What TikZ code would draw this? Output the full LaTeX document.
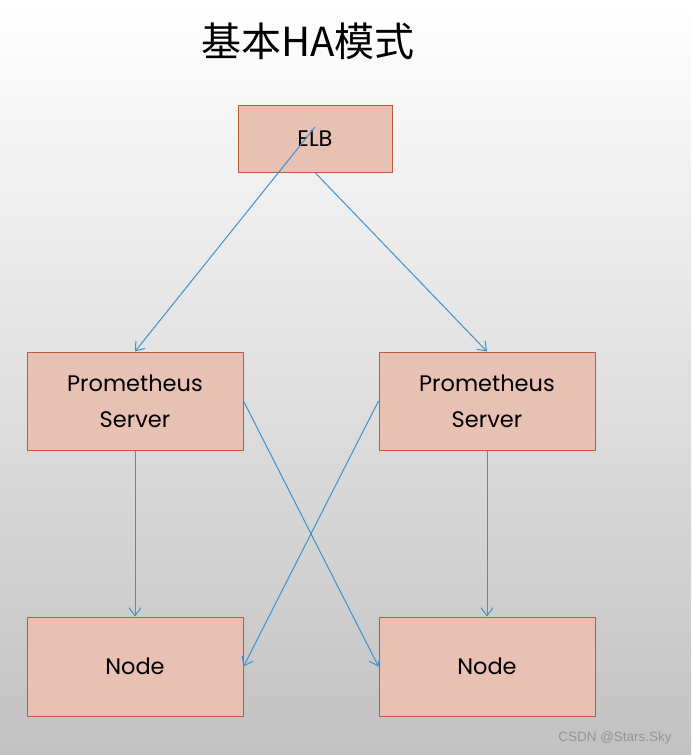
\documentclass[tikz,border=0pt]{standalone}
\usepackage{fontspec}
\setmainfont{Poppins}
\newfontfamily\cjk{Noto Sans CJK SC}
\newfontfamily\markfont{Liberation Sans}
\usetikzlibrary{arrows.meta,positioning}
\definecolor{boxfill}{RGB}{232,193,181}
\definecolor{boxedge}{RGB}{186,92,56}
\definecolor{linkblue}{RGB}{62,146,204}
\definecolor{markgray}{RGB}{150,150,150}

\begin{document}
\begin{tikzpicture}[x=1pt, y=-1pt,
  box/.style={draw=boxedge, fill=boxfill, line width=1pt, align=center, inner sep=0pt,
    font=\fontsize{22.5}{36}\selectfont},
  link/.style={linkblue, line width=1pt, -{Straight Barb[length=8pt, width=12pt, line width=1pt]}}]
% Background
\shade[top color=white, middle color=black!5, bottom color=black!24] (0,0) rectangle (691,755);
\useasboundingbox (0,0) rectangle (691,755);

% Title
\node[font=\cjk\fontsize{40}{44}\selectfont] (title) at (308, 41) {基本HA模式};

% Boxes
\node[box, minimum width=154pt, minimum height=67pt] (elb) at (315, 138.5) {ELB};
\node[box, minimum width=216pt, minimum height=98pt] (promL) at (135, 401) {Prometheus\\Server};
\node[box, minimum width=216pt, minimum height=98pt] (promR) at (487, 401) {Prometheus\\Server};
\node[box, minimum width=216pt, minimum height=99pt] (nodeL) at (135, 666.5) {Node};
\node[box, minimum width=216pt, minimum height=99pt] (nodeR) at (487, 666.5) {Node};

% Links
\coordinate (elbin) at (315, 127);
\draw[link] (elbin) -- (promL.north);
\draw[link] (elb.south) -- (promR.north);
\draw[link] (promL.south) -- (nodeL.north);
\draw[link] (promR.south) -- (nodeR.north);
\draw[link] (promL.east) -- (nodeR.west);
\draw[link] (promR.west) -- (nodeL.east);

% Watermark
\node[font=\markfont\fontsize{13.5}{15}\selectfont, text=markgray] (mark) at (615, 738) {CSDN @Stars.Sky};
\end{tikzpicture}
\end{document}
